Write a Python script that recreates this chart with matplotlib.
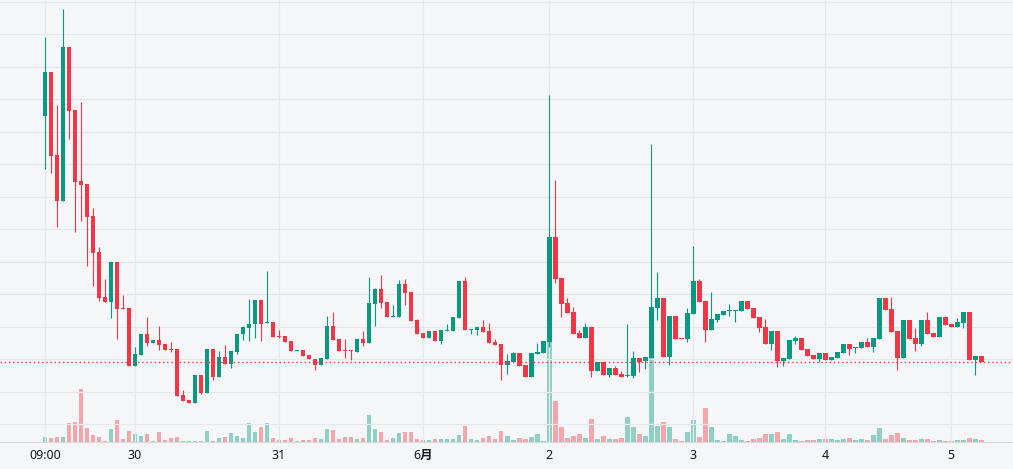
import matplotlib
matplotlib.use("Agg")
import matplotlib.pyplot as plt
import numpy as np

plt.rcParams["font.family"] = ["Noto Sans", "Noto Sans CJK SC", "DejaVu Sans"]

# hourly candles, price in arbitrary chart units (no price scale shown)
opens = [341, 385, 302, 256, 410, 347, 276, 273, 241, 205, 160, 155, 195, 149, 149, 91, 102,
         123, 114, 117, 113, 108, 108, 62, 57, 54, 82, 64, 108, 80, 100, 93, 105, 123, 129,
         133, 157, 134, 135, 121, 121, 116, 106, 107, 102, 98, 92, 98, 131, 118, 107, 107,
         105, 118, 114, 153, 168, 155, 140, 140, 173, 165, 137, 124, 119, 126, 116, 126, 126,
         139, 176, 127, 127, 130, 126, 115, 113, 92, 95, 104, 92, 80, 103, 104,
         115, 220, 179, 154, 145, 124, 119, 130, 86, 95, 82, 89, 83, 81, 81, 99, 96,
         99, 149, 159, 100, 141, 119, 118, 143, 176, 156, 127, 137, 142, 146, 146, 146, 156, 149,
         140, 130, 113, 126, 96, 98, 116, 119, 108, 102, 98, 104, 97, 99, 104, 113, 109,
         109, 115, 110, 118, 159, 148, 126, 99, 137, 119, 113, 137, 124, 120, 140, 133, 130, 134, 145, 97, 101]
highs = [420, 385, 352, 448, 410, 347, 355, 273, 249, 210, 178, 195, 195, 162, 149, 110, 123,
         140, 117, 131, 113, 115, 108, 67, 57, 82, 82, 108, 108, 106, 112, 106, 123, 130, 158,
         157, 157, 186, 135, 127, 121, 116, 107, 107, 102, 98, 99, 141, 145, 118, 118, 107,
         118, 126, 180, 169, 182, 155, 152, 177, 178, 165, 138, 124, 126, 126, 127, 133, 140,
         176, 180, 128, 130, 137, 134, 118, 113, 103, 105, 104, 92, 104, 114, 116,
         362, 277, 179, 159, 150, 127, 134, 130, 95, 95, 89, 91, 86, 133, 106, 99, 100,
         313, 185, 159, 141, 141, 119, 149, 211, 178, 156, 165, 143, 146, 153, 147, 156, 156, 149,
         140, 138, 126, 126, 99, 117, 121, 119, 108, 102, 104, 104, 100, 105, 113, 113, 110,
         115, 119, 119, 159, 159, 160, 126, 137, 137, 129, 137, 145, 124, 140, 141, 133, 139, 145, 145, 101, 101]
lows = [288, 284, 230, 256, 318, 225, 236, 191, 171, 156, 155, 139, 118, 148, 91, 91, 102,
        111, 114, 107, 107, 105, 61, 56, 54, 54, 63, 64, 77, 80, 93, 89, 103, 117, 116,
        119, 116, 134, 120, 119, 115, 106, 106, 101, 98, 87, 92, 98, 117, 106, 99, 97,
        105, 111, 114, 131, 149, 140, 140, 140, 152, 136, 123, 119, 119, 116, 113, 126, 126,
        139, 127, 123, 122, 125, 114, 112, 77, 83, 95, 91, 80, 80, 103, 104,
        110, 174, 140, 144, 123, 119, 119, 80, 86, 82, 80, 82, 80, 80, 79, 85, 88,
        99, 137, 100, 92, 118, 118, 115, 143, 155, 115, 127, 135, 142, 141, 135, 146, 148, 139,
        125, 113, 107, 90, 91, 98, 113, 107, 101, 98, 95, 97, 97, 99, 104, 102, 104,
        109, 110, 105, 118, 147, 125, 87, 99, 118, 106, 111, 123, 120, 120, 132, 130, 130, 129, 97, 82, 95]
closes = [385, 301, 256, 410, 346, 275, 272, 240, 204, 159, 155, 195, 148, 148, 91, 103, 123,
          114, 117, 112, 107, 107, 61, 56, 54, 82, 64, 108, 80, 100, 93, 106, 123, 130, 133,
          157, 133, 135, 120, 120, 115, 106, 107, 101, 98, 92, 99, 131, 117, 106, 106, 106,
          118, 114, 154, 168, 154, 140, 141, 173, 164, 136, 123, 119, 126, 116, 127, 127, 140,
          176, 127, 128, 130, 125, 114, 112, 92, 96, 104, 91, 80, 104, 105, 116,
          220, 178, 153, 144, 123, 119, 130, 86, 95, 82, 89, 82, 80, 82, 99, 95, 100,
          150, 159, 100, 141, 118, 118, 144, 176, 155, 127, 138, 143, 146, 147, 147, 156, 148, 139,
          129, 113, 126, 96, 99, 117, 119, 107, 101, 98, 104, 97, 100, 105, 113, 108, 110,
          115, 110, 119, 159, 147, 125, 99, 137, 118, 113, 137, 123, 120, 140, 132, 130, 135, 145, 97, 101, 95]
volumes = [5, 4, 5, 5, 19, 20, 53, 14, 7, 5, 1, 13, 22, 3, 11, 8, 6,
           8, 1, 10, 2, 4, 5, 1, 1, 1, 1, 11, 1, 4, 5, 9, 6, 4, 19,
           10, 15, 19, 4, 2, 2, 4, 1, 2, 2, 4, 3, 13, 12, 3, 5, 5,
           3, 4, 27, 13, 10, 2, 4, 9, 10, 10, 3, 2, 2, 3, 3, 3, 3,
           7, 16, 3, 2, 4, 6, 3, 11, 6, 2, 4, 3, 5, 8, 1,
           100, 41, 15, 4, 6, 8, 4, 23, 3, 6, 3, 3, 4, 25, 15, 8, 6,
           84, 16, 20, 15, 3, 1, 10, 22, 5, 34, 15, 2, 1, 8, 6, 2, 1, 3,
           4, 8, 8, 10, 3, 8, 2, 1, 2, 2, 3, 3, 3, 2, 3, 4, 2,
           3, 2, 7, 14, 3, 7, 9, 4, 2, 2, 3, 3, 1, 2, 1, 1, 2, 2, 4, 3, 2]

tick_idx = [0, 15, 39, 63, 84, 108, 130, 151]
tick_labels = ["09:00", "30", "31", "6月", "2", "3", "4", "5"]

o = np.array(opens, float)
h = np.array(highs, float)
l = np.array(lows, float)
c = np.array(closes, float)
v = np.array(volumes, float)
x = np.arange(len(o))

up_col = "#089981"
dn_col = "#f23645"
bg = "#f4f6f8"
up = c >= o
cols = np.where(up, up_col, dn_col)
vcols = np.where(up, "#8fd0c5", "#f5a6ad")

fig = plt.figure(figsize=(10.13, 4.69), dpi=100, facecolor=bg)
ax = fig.add_axes([0, 1 - 442 / 469, 1, 442 / 469])
ax.set_facecolor(bg)
axv = ax.twinx()

# volume pane
axv.bar(x, v, width=0.83, color=vcols, zorder=1)
axv.set_ylim(0, 442)
axv.axis("off")

# candles
ax.set_zorder(axv.get_zorder() + 1)
ax.patch.set_visible(False)
ax.vlines(x, l, h, colors=cols, linewidth=0.8, zorder=3)
body_lo = np.minimum(o, c)
body_h = np.maximum(np.abs(c - o), 1.0)
ax.bar(x, body_h, bottom=body_lo, width=0.83, color=cols, zorder=4, linewidth=0)

ax.axhline(c[-1], color=dn_col, linestyle=(0, (1, 2)), linewidth=1, zorder=5)

ax.set_xlim(-7.5, 161.33)
ax.set_ylim(15, 457)
ax.set_yticks(np.arange(455.3, 15, -32.5))
ax.set_xticks(tick_idx)
ax.set_xticklabels(tick_labels, fontsize=9, color="#131722")
for t in ax.get_xticklabels():
    if t.get_text() == "6月":
        t.set_fontweight("bold")
ax.tick_params(axis="x", length=0, pad=5)
ax.tick_params(axis="y", length=0, labelleft=False)
ax.grid(True, color="#e6e8eb", linewidth=0.9)
ax.set_axisbelow(True)
for s in ["top", "left", "right"]:
    ax.spines[s].set_visible(False)
ax.spines["bottom"].set_color("#d6d9de")

fig.savefig("out.png", dpi=100, facecolor=bg)
